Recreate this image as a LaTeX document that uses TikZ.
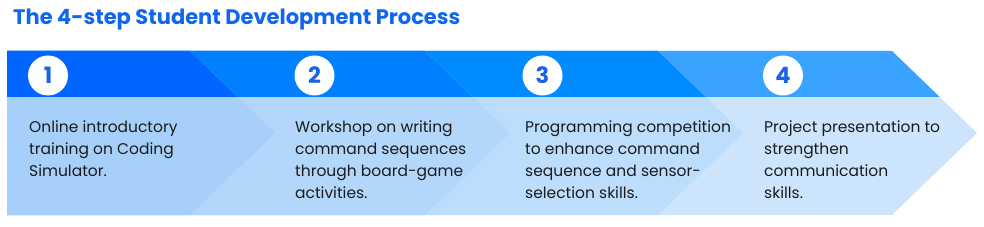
\documentclass[tikz,border=0pt]{standalone}
\usepackage{fontspec}
\setmainfont{Poppins}
\definecolor{titleblue}{HTML}{1166EE}
\definecolor{numblue}{HTML}{1A62EA}
\definecolor{topA}{HTML}{0066FF}
\definecolor{topB}{HTML}{0080FF}
\definecolor{topC}{HTML}{008CFF}
\definecolor{topD}{HTML}{3AA3FF}
\definecolor{lowA}{HTML}{A6D0FA}
\definecolor{lowB}{HTML}{B2D7FB}
\definecolor{lowC}{HTML}{BCDDFC}
\definecolor{lowD}{HTML}{CCE5FC}
\definecolor{bodytext}{HTML}{1C1C1C}
\tikzset{
  numcircle/.style={circle, fill=white, minimum size=40pt, inner sep=0pt,
    font=\fontsize{22.5}{22.5}\selectfont\bfseries, text=numblue},
  steptext/.style={anchor=base west, align=left, inner sep=0pt,
    font=\fontsize{15.5}{22}\selectfont, text=bodytext},
}
\newcommand{\chev}[3]{%
  \fill[#3] (7,51) -- (#1,51) -- (#1+85,133) -- (#1,215) -- (7,215) -- cycle;
  \fill[#2] (7,51) -- (#1,51) -- (#1+47.7,97) -- (7,97) -- cycle;
}
\begin{document}
\begin{tikzpicture}[x=1pt,y=-1pt]
\useasboundingbox (0,0) rectangle (984,227);
\chev{892}{topD}{lowD}
\chev{658}{topC}{lowC}
\chev{425}{topB}{lowB}
\chev{190}{topA}{lowA}
\node[anchor=base west, inner sep=0pt, text=titleblue,
  font=\fontsize{21}{21}\selectfont\bfseries] (title) at (13,25)
  {The 4-step Student Development Process};
\node[numcircle] (n1) at (48,75.5) {1};
\node[numcircle] (n2) at (314.5,75.5) {2};
\node[numcircle] (n3) at (542.5,75.5) {3};
\node[numcircle] (n4) at (783,75.5) {4};
\node[steptext] (t1) at (29,176) {Online introductory\\training on Coding\\Simulator.};
\node[steptext] (t2) at (295,198) {Workshop on writing\\command sequences\\through board-game\\activities.};
\node[steptext] (t3) at (525,198) {Programming competition\\to enhance command\\sequence and sensor-\\selection skills.};
\node[steptext] (t4) at (764,198) {Project presentation to\\strengthen\\communication\\skills.};
\end{tikzpicture}
\end{document}
